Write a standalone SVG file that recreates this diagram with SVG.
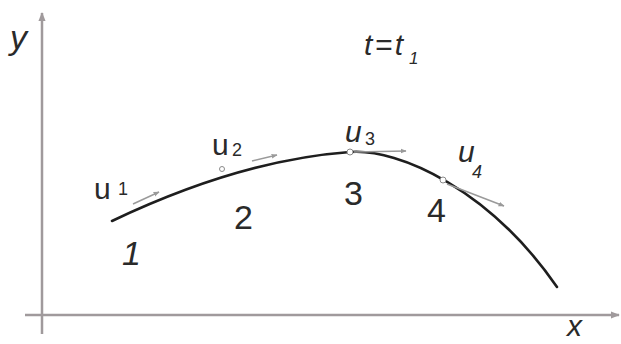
<svg xmlns="http://www.w3.org/2000/svg" width="621" height="344" viewBox="0 0 621 344">
<style>
.axis{stroke:#a09a9c;stroke-width:2.5;fill:none}
.curve{stroke:#1e1e1e;stroke-width:2.6;fill:none;stroke-linecap:round}
.vec{stroke:#9a9a9a;stroke-width:1.5;fill:none}
.pt{stroke:#8a8a8a;stroke-width:1;fill:#fff}
text{font-family:"Liberation Sans",Arial,sans-serif;fill:#2a2a2a}
.it{font-style:italic}
.lab{font-size:30px}
.sub{font-size:18px}
.num{font-size:34px}
</style>
<defs>
<marker id="ah" viewBox="0 0 10 10" refX="9" refY="5" markerWidth="6" markerHeight="6" orient="auto" markerUnits="userSpaceOnUse">
<path d="M0,1 L10,5 L0,9 z" fill="#9a9a9a"/>
</marker>
<marker id="axh" viewBox="0 0 10 10" refX="9" refY="5" markerWidth="9" markerHeight="9" orient="auto" markerUnits="userSpaceOnUse">
<path d="M0,1 L10,5 L0,9 z" fill="#a09a9c"/>
</marker>
</defs>
<g id="axes">
<line class="axis" x1="42" y1="334" x2="42" y2="13" marker-end="url(#axh)"/>
<line class="axis" x1="25" y1="315" x2="619" y2="315" marker-end="url(#axh)"/>
<text class="it" x="10" y="49" font-size="34">y</text>
<text class="it" x="567" y="336" font-size="30">x</text>
</g>
<g id="time">
<text class="it" x="364" y="55" font-size="30" letter-spacing="2.5">t=t</text>
<text class="it" x="409" y="64" font-size="17">1</text>
</g>
<g id="trajectory">
<path class="curve" d="M112,221 Q240,160 350,152 C400,148.4 490,190 557,287"/>
</g>
<g id="connectors">
<line class="vec" x1="133" y1="204" x2="159" y2="192" marker-end="url(#ah)"/>
<line class="vec" x1="252" y1="161" x2="277" y2="155" marker-end="url(#ah)"/>
<line class="vec" x1="354" y1="152" x2="406" y2="151" marker-end="url(#ah)"/>
<line class="vec" x1="447" y1="184" x2="504" y2="206" marker-end="url(#ah)"/>
</g>
<g id="point1">
<text class="lab" x="94" y="199">u</text><text class="sub" x="118" y="195">1</text>
<text class="num it" x="122" y="265">1</text>
</g>
<g id="point2">
<circle class="pt" cx="222" cy="169" r="2.5"/>
<text class="lab" x="212" y="155">u</text><text class="sub" x="232" y="156">2</text>
<text class="num" x="234" y="229">2</text>
</g>
<g id="point3">
<circle class="pt" cx="350" cy="152" r="3"/>
<text class="lab it" x="345" y="142">u</text><text class="sub" x="365" y="145">3</text>
<text class="num" x="344" y="205">3</text>
</g>
<g id="point4">
<circle class="pt" cx="443" cy="180" r="3"/>
<text class="lab it" x="458" y="162">u</text><text class="sub it" x="472" y="178">4</text>
<text class="num" x="427" y="222">4</text>
</g>
</svg>
